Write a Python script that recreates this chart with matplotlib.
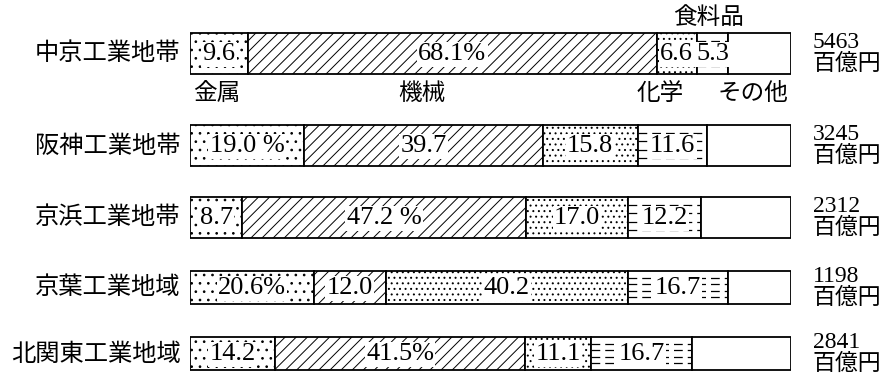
import matplotlib.pyplot as plt

# --- data ---
regions = ['中京工業地帯', '阪神工業地帯', '京浜工業地帯', '京葉工業地域', '北関東工業地域']
metal = [9.6, 19.0, 8.7, 20.6, 14.2]
machine = [68.1, 39.7, 47.2, 12.0, 41.5]
chem = [6.6, 15.8, 17.0, 40.2, 11.1]
food = [5.3, 11.6, 12.2, 16.7, 16.7]
totals = ['5463', '3245', '2312', '1198', '2841']
unit = '百億円'
seg_labels = [
    ['9.6', '68.1%', '6.6', '5.3'],
    ['19.0 %', '39.7', '15.8', '11.6'],
    ['8.7', '47.2 %', '17.0', '12.2'],
    ['20.6%', '12.0', '40.2', '16.7'],
    ['14.2', '41.5%', '11.1', '16.7'],
]
cat_names = ['金属', '機械', '化学', '食料品', 'その他']

plt.rcParams['font.family'] = ['Noto Sans CJK JP', 'DejaVu Sans']
plt.rcParams['hatch.linewidth'] = 0.7
SERIF = 'Liberation Serif'

W, H = 892, 376
fig = plt.figure(figsize=(W / 100, H / 100), dpi=100)
# bar area spans pixels 190..791 horizontally, y in pixel units
ax = fig.add_axes([190 / W, 0, 601 / W, 1])
ax.set_xlim(0, 100)
ax.set_ylim(H, 0)
ax.axis('off')

y_pos = [53.5, 145.5, 217.5, 287.5, 353.5]
heights = [41, 41, 41, 33, 33]
hatches = ['..', '///', '...', None, None]

for i in range(len(regions)):
    vals = [metal[i], machine[i], chem[i], food[i]]
    vals.append(100 - sum(vals))
    left = 0
    y, h = y_pos[i], heights[i]
    for j, v in enumerate(vals):
        bar = ax.barh(y, v, left=left, height=h, color='white',
                      edgecolor='black', linewidth=1.3, hatch=hatches[j])[0]
        if j == 3:
            # dashed horizontal hatch for 食料品
            for f in [0.2, 0.4, 0.6, 0.8]:
                yy = y - h / 2 + f * h
                ln, = ax.plot([left, left + v], [yy, yy], color='black',
                              lw=0.9, linestyle=(0, (7, 4)))
                ln.set_clip_path(bar)
        if j < 4:
            ax.text(left + v / 2, y + 1, seg_labels[i][j], ha='center',
                    va='center', fontsize=19, family=SERIF,
                    bbox=dict(boxstyle='square,pad=0.05', fc='white', ec='none'))
        left += v

    ax.text(-1.6, y, regions[i], ha='right', va='center', fontsize=17.5,
            clip_on=False)
    ax.text(103.6, y - 6, totals[i], ha='left', va='baseline', fontsize=17,
            family=SERIF, clip_on=False)
    ax.text(103.6, y + 9.5, unit, ha='left', va='center', fontsize=16.5,
            clip_on=False)

# category names around the first bar
ax.text(0.5, 93, cat_names[0], ha='left', va='center', fontsize=17)
ax.text(38.6, 93, cat_names[1], ha='center', va='center', fontsize=17)
ax.text(78.2, 93, cat_names[2], ha='center', va='center', fontsize=17)
ax.text(86.2, 17, cat_names[3], ha='center', va='center', fontsize=17)
ax.text(93.7, 93, cat_names[4], ha='center', va='center', fontsize=17)

fig.savefig('out.png', dpi=100)
